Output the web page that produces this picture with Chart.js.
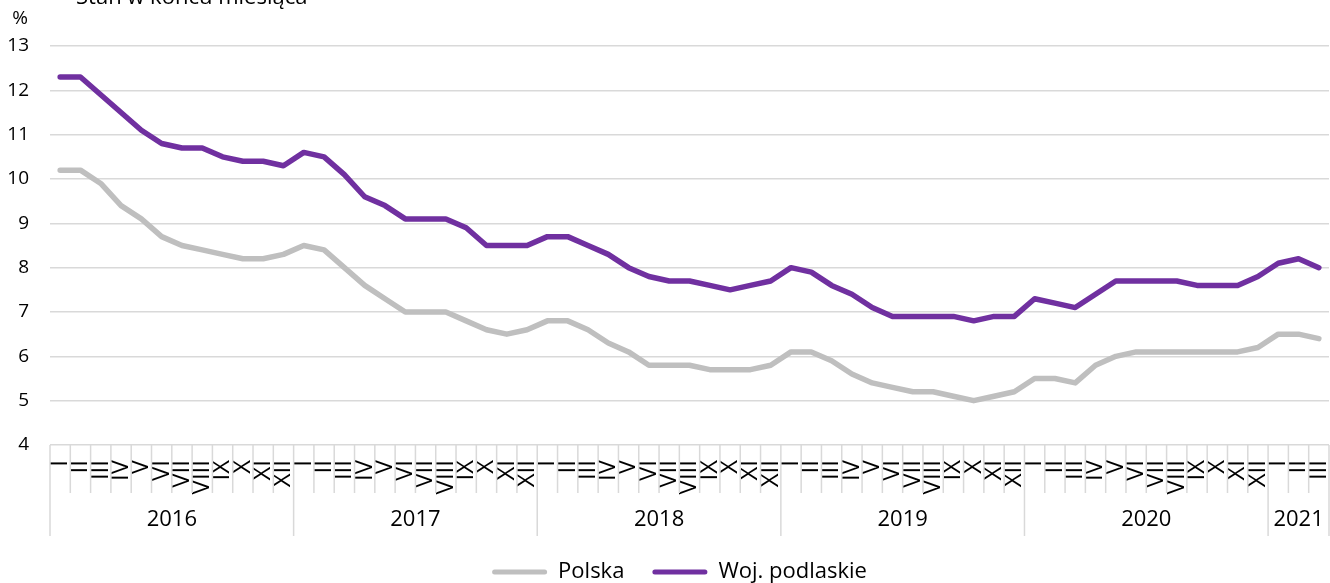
<!DOCTYPE html>
<html><head><meta charset="utf-8">
<script src="https://cdn.jsdelivr.net/npm/chart.js@4.4.1/dist/chart.umd.min.js"></script>
<style>html,body{margin:0;padding:0;background:#fff;overflow:hidden}#wrap{width:1330px;height:583px;position:relative}</style>
</head><body><div id="wrap"><canvas id="c" width="1330" height="583"></canvas></div>
<script>
const monthNames = ['I','II','III','IV','V','VI','VII','VIII','IX','X','XI','XII'];
const years = ['2016','2017','2018','2019','2020','2021'];
const monthsInYear = [12,12,12,12,12,3];
const polska = [
  10.2,10.2,9.9,9.4,9.1,8.7,8.5,8.4,8.3,8.2,8.2,8.3,
  8.5,8.4,8.0,7.6,7.3,7.0,7.0,7.0,6.8,6.6,6.5,6.6,
  6.8,6.8,6.6,6.3,6.1,5.8,5.8,5.8,5.7,5.7,5.7,5.8,
  6.1,6.1,5.9,5.6,5.4,5.3,5.2,5.2,5.1,5.0,5.1,5.2,
  5.5,5.5,5.4,5.8,6.0,6.1,6.1,6.1,6.1,6.1,6.1,6.2,
  6.5,6.5,6.4
];
const podlaskie = [
  12.3,12.3,11.9,11.5,11.1,10.8,10.7,10.7,10.5,10.4,10.4,10.3,
  10.6,10.5,10.1,9.6,9.4,9.1,9.1,9.1,8.9,8.5,8.5,8.5,
  8.7,8.7,8.5,8.3,8.0,7.8,7.7,7.7,7.6,7.5,7.6,7.7,
  8.0,7.9,7.6,7.4,7.1,6.9,6.9,6.9,6.9,6.8,6.9,6.9,
  7.3,7.2,7.1,7.4,7.7,7.7,7.7,7.7,7.6,7.6,7.6,7.8,
  8.1,8.2,8.0
];
const yMin = 4, yMax = 13, yStep = 1;
const seriesNames = ['Polska','Woj. podlaskie'];
const seriesColors = ['#bfbfbf','#7030a0'];
const titleText = 'Stan w końcu miesiąca';
const unitText = '%';

const labels = [];
monthsInYear.forEach(n => { for (let m = 0; m < n; m++) labels.push(monthNames[m]); });

const FONT = "'Open Sans', 'Noto Sans', sans-serif";
Chart.defaults.font.family = FONT;
Chart.defaults.color = '#000';

const legendShift = {
  id: 'legendShift',
  afterLayout(chart) {
    if (chart.legend) { chart.legend.left += 15; chart.legend.right += 15; }
  }
};

const decor = {
  id: 'decor',
  afterDraw(chart) {
    const {ctx, chartArea} = chart;
    const x = chart.scales.x;
    const n = labels.length;
    const step = x.getPixelForValue(1) - x.getPixelForValue(0);
    const b = chartArea.bottom;
    const yearBounds = [0];
    monthsInYear.reduce((acc, v) => { yearBounds.push(acc + v); return acc + v; }, 0);
    ctx.save();
    ctx.strokeStyle = '#d9d9d9';
    ctx.lineWidth = 1.5;
    for (let i = 0; i <= n; i++) {
      const px = (i < n ? x.getPixelForValue(i) : x.getPixelForValue(n - 1) + step) - step / 2;
      const isYear = yearBounds.includes(i);
      ctx.beginPath();
      ctx.moveTo(px, b);
      ctx.lineTo(px, b + (isYear ? 91 : 48));
      ctx.stroke();
    }
    ctx.fillStyle = '#000';
    ctx.font = "22px " + FONT;
    ctx.textAlign = 'center';
    ctx.textBaseline = 'middle';
    for (let k = 0; k < years.length; k++) {
      const a = x.getPixelForValue(yearBounds[k]);
      const e = x.getPixelForValue(yearBounds[k + 1] - 1);
      ctx.fillText(years[k], (a + e) / 2, b + 75);
    }
    ctx.font = "19px " + FONT;
    ctx.fillText(unitText, 20, 19);
    ctx.textAlign = 'left';
    ctx.textBaseline = 'alphabetic';
    ctx.font = "22px " + FONT;
    ctx.fillText(titleText, 76, 4);
    ctx.restore();
  }
};

new Chart(document.getElementById('c'), {
  type: 'line',
  data: {
    labels: labels,
    datasets: [
      { label: seriesNames[0], data: polska, borderColor: seriesColors[0], backgroundColor: seriesColors[0],
        borderWidth: 5.5, pointRadius: 0, tension: 0, borderCapStyle: 'round', borderJoinStyle: 'round' },
      { label: seriesNames[1], data: podlaskie, borderColor: seriesColors[1], backgroundColor: seriesColors[1],
        borderWidth: 5.5, pointRadius: 0, tension: 0, borderCapStyle: 'round', borderJoinStyle: 'round' }
    ]
  },
  options: {
    responsive: false,
    animation: false,
    devicePixelRatio: 1,
    layout: { padding: { top: 46, right: 1, left: 0, bottom: -10 } },
    plugins: {
      legend: {
        position: 'bottom',
        labels: {
          boxWidth: 55, boxHeight: 5, padding: 28,
          font: { size: 22 },
          generateLabels(chart) {
            const items = Chart.defaults.plugins.legend.labels.generateLabels(chart);
            items.forEach(it => { it.lineWidth = 0; it.fillStyle = it.strokeStyle; it.borderRadius = 2.5; });
            return items;
          }
        }
      },
      tooltip: { enabled: false }
    },
    scales: {
      x: {
        type: 'category',
        offset: true,
        grid: { display: false, drawTicks: false },
        border: { display: false },
        ticks: { autoSkip: false, maxRotation: 90, minRotation: 90, padding: 15, font: { size: 24 }, color: '#000' },
        afterFit(scale) { scale.height = 88; scale.paddingLeft = 0; scale.paddingRight = 0; }
      },
      y: {
        min: yMin, max: yMax,
        ticks: { stepSize: yStep, padding: 21, font: { size: 19 }, color: '#000' },
        grid: { color: '#d9d9d9', lineWidth: 1.5, drawTicks: false },
        border: { display: false },
        afterFit(scale) { scale.width = 50; }
      }
    }
  },
  plugins: [decor, legendShift]
});
</script></body></html>
